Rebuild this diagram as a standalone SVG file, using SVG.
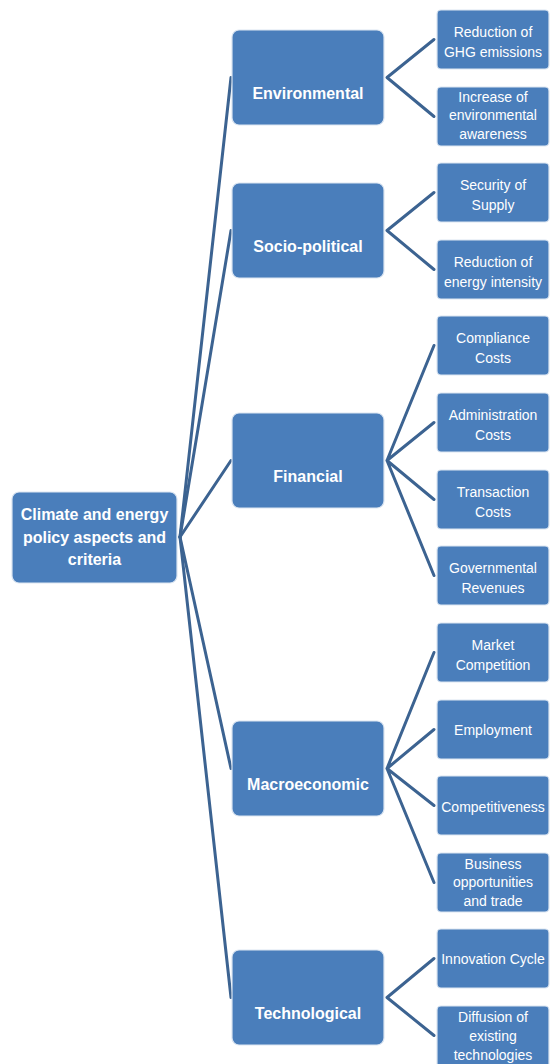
<svg xmlns="http://www.w3.org/2000/svg" width="550" height="1064" viewBox="0 0 550 1064">
<style>
.box{fill:#4A7EBB;stroke:#dbe5f1;stroke-width:1.2}
.t0{font-family:"Liberation Sans",Arial,sans-serif;font-size:16px;font-weight:bold;fill:#ffffff;text-anchor:middle}
.t1{font-family:"Liberation Sans",Arial,sans-serif;font-size:16px;font-weight:bold;fill:#ffffff;text-anchor:middle}
.t2{font-family:"Liberation Sans",Arial,sans-serif;font-size:14px;fill:#ffffff;text-anchor:middle}
.c{stroke:#3C6391;stroke-width:3;fill:none;stroke-linecap:round}
</style>
<rect width="550" height="1064" fill="#ffffff"/>
<g id="connectors">
<path class="c" d="M180 537 L231 77.5"/>
<path class="c" d="M180 537 L231 230.5"/>
<path class="c" d="M180 537 L231 460.5"/>
<path class="c" d="M180 537 L231 768.5"/>
<path class="c" d="M180 537 L231 997.5"/>
<path class="c" d="M387 77.5 L434 39.5 M387 77.5 L434 116.5"/>
<path class="c" d="M387 230.5 L434 192.5 M387 230.5 L434 269.5"/>
<path class="c" d="M387 460.5 L434 345.5 M387 460.5 L434 422.5 M387 460.5 L434 499.5 M387 460.5 L434 575.5"/>
<path class="c" d="M387 768.5 L434 652.5 M387 768.5 L434 729.5 M387 768.5 L434 805.5 M387 768.5 L434 882.5"/>
<path class="c" d="M387 997.5 L434 958.5 M387 997.5 L434 1035.5"/>
</g>
<g id="root">
<rect class="box" x="12" y="492" width="165" height="91" rx="7"/>
<text class="t0" x="94.5" y="520">Climate and energy</text>
<text class="t0" x="94.5" y="543">policy aspects and</text>
<text class="t0" x="94.5" y="565">criteria</text>
</g>
<g id="environmental">
<rect class="box" x="232" y="30" width="152" height="95" rx="7"/>
<text class="t1" x="308" y="98.5">Environmental</text>
</g>
<g id="socio-political">
<rect class="box" x="232" y="183" width="152" height="95" rx="7"/>
<text class="t1" x="308" y="251.5">Socio-political</text>
</g>
<g id="financial">
<rect class="box" x="232" y="413" width="152" height="95" rx="7"/>
<text class="t1" x="308" y="481.5">Financial</text>
</g>
<g id="macroeconomic">
<rect class="box" x="232" y="721" width="152" height="95" rx="7"/>
<text class="t1" x="308" y="789.5">Macroeconomic</text>
</g>
<g id="technological">
<rect class="box" x="232" y="950" width="152" height="95" rx="7"/>
<text class="t1" x="308" y="1018.5">Technological</text>
</g>
<g id="ghg">
<rect class="box" x="437" y="10" width="112" height="59" rx="4"/>
<text class="t2" x="493" y="37">Reduction of</text>
<text class="t2" x="493" y="57">GHG emissions</text>
</g>
<g id="awareness">
<rect class="box" x="437" y="87" width="112" height="59" rx="4"/>
<text class="t2" x="493" y="102">Increase of</text>
<text class="t2" x="493" y="120">environmental</text>
<text class="t2" x="493" y="139">awareness</text>
</g>
<g id="security">
<rect class="box" x="437" y="163" width="112" height="59" rx="4"/>
<text class="t2" x="493" y="190">Security of</text>
<text class="t2" x="493" y="210">Supply</text>
</g>
<g id="intensity">
<rect class="box" x="437" y="240" width="112" height="59" rx="4"/>
<text class="t2" x="493" y="267">Reduction of</text>
<text class="t2" x="493" y="287">energy intensity</text>
</g>
<g id="compliance">
<rect class="box" x="437" y="316" width="112" height="59" rx="4"/>
<text class="t2" x="493" y="343">Compliance</text>
<text class="t2" x="493" y="363">Costs</text>
</g>
<g id="administration">
<rect class="box" x="437" y="393" width="112" height="59" rx="4"/>
<text class="t2" x="493" y="420">Administration</text>
<text class="t2" x="493" y="440">Costs</text>
</g>
<g id="transaction">
<rect class="box" x="437" y="470" width="112" height="59" rx="4"/>
<text class="t2" x="493" y="497">Transaction</text>
<text class="t2" x="493" y="517">Costs</text>
</g>
<g id="revenues">
<rect class="box" x="437" y="546" width="112" height="59" rx="4"/>
<text class="t2" x="493" y="573">Governmental</text>
<text class="t2" x="493" y="593">Revenues</text>
</g>
<g id="market">
<rect class="box" x="437" y="623" width="112" height="59" rx="4"/>
<text class="t2" x="493" y="650">Market</text>
<text class="t2" x="493" y="670">Competition</text>
</g>
<g id="employment">
<rect class="box" x="437" y="700" width="112" height="59" rx="4"/>
<text class="t2" x="493" y="735">Employment</text>
</g>
<g id="competitiveness">
<rect class="box" x="437" y="776" width="112" height="59" rx="4"/>
<text class="t2" x="493" y="812">Competitiveness</text>
</g>
<g id="business">
<rect class="box" x="437" y="853" width="112" height="59" rx="4"/>
<text class="t2" x="493" y="869">Business</text>
<text class="t2" x="493" y="887">opportunities</text>
<text class="t2" x="493" y="906">and trade</text>
</g>
<g id="innovation">
<rect class="box" x="437" y="929" width="112" height="59" rx="4"/>
<text class="t2" x="493" y="964">Innovation Cycle</text>
</g>
<g id="diffusion">
<rect class="box" x="437" y="1006" width="112" height="62" rx="4"/>
<text class="t2" x="493" y="1022">Diffusion of</text>
<text class="t2" x="493" y="1041">existing</text>
<text class="t2" x="493" y="1060">technologies</text>
</g>
</svg>
